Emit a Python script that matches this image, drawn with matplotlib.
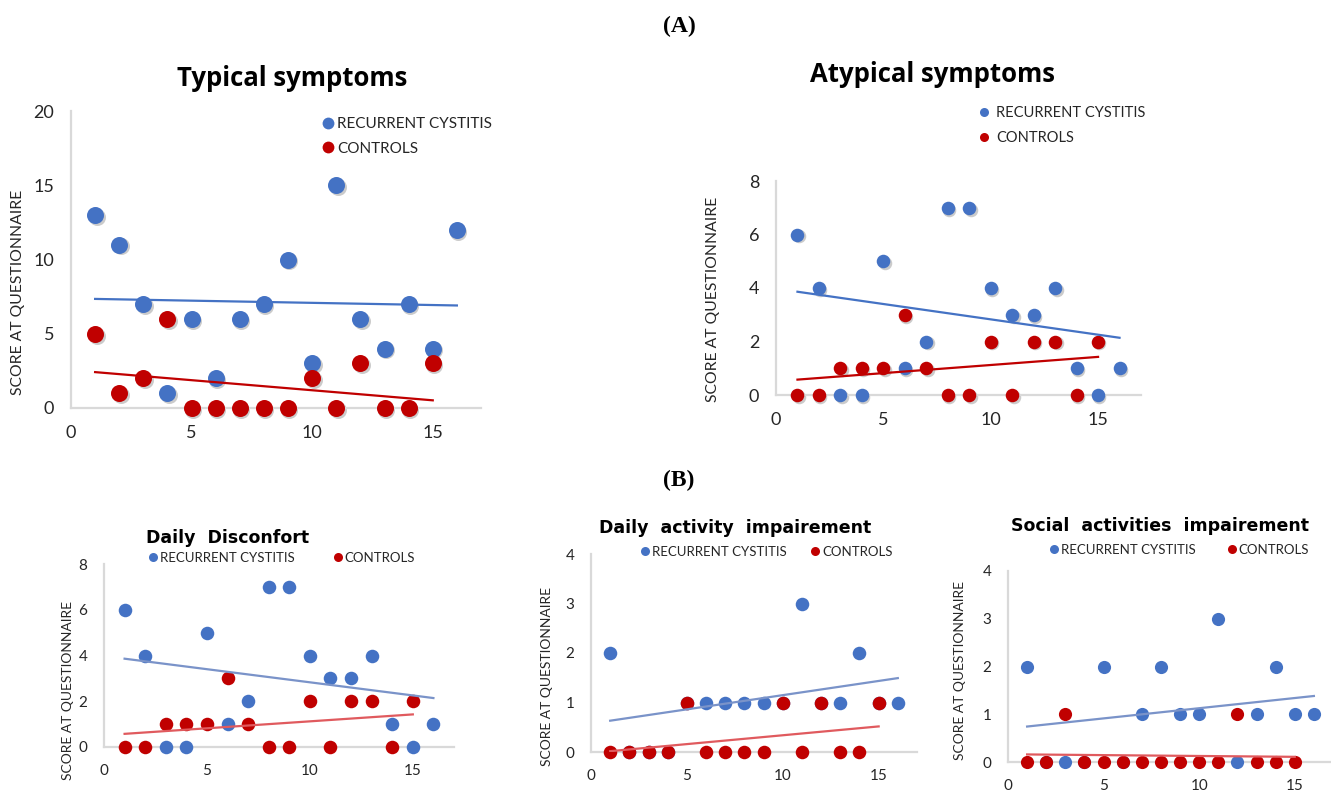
import numpy as np
import matplotlib.pyplot as plt
from matplotlib.lines import Line2D
import matplotlib.transforms as mtransforms

W, H = 1331, 792

# patient index (x) and questionnaire scores
x_rc = np.arange(1, 17)
x_ct = np.arange(1, 16)

typical_rc = [13, 11, 7, 1, 6, 2, 6, 7, 10, 3, 15, 6, 4, 7, 4, 12]
typical_ct = [5, 1, 2, 6, 0, 0, 0, 0, 0, 2, 0, 3, 0, 0, 3]

atypical_rc = [6, 4, 0, 0, 5, 1, 2, 7, 7, 4, 3, 3, 4, 1, 0, 1]
atypical_ct = [0, 0, 1, 1, 1, 3, 1, 0, 0, 2, 0, 2, 2, 0, 2]

discomfort_rc = [6, 4, 0, 0, 5, 1, 2, 7, 7, 4, 3, 3, 4, 1, 0, 1]
discomfort_ct = [0, 0, 1, 1, 1, 3, 1, 0, 0, 2, 0, 2, 2, 0, 2]

activity_rc = [2, 0, 0, 0, 1, 1, 1, 1, 1, 1, 3, 1, 1, 2, 1, 1]
activity_ct = [0, 0, 0, 0, 1, 0, 0, 0, 0, 1, 0, 1, 0, 0, 1]

social_rc = [2, 0, 0, 0, 2, 0, 1, 2, 1, 1, 3, 0, 1, 2, 1, 1]
social_ct = [0, 0, 1, 0, 0, 0, 0, 0, 0, 0, 0, 1, 0, 0, 0]

BLUE = '#4472C4'
RED = '#C00000'
AXIS = '#D9D9D9'
TXT = '#262626'

fig = plt.figure(figsize=(W / 100, H / 100), dpi=100)


def rect(x0, ytop, x1, ybot):
    return [x0 / W, 1 - ybot / H, (x1 - x0) / W, (ybot - ytop) / H]


def panel(box, rc, ct, ymax, yticks, size, tick_fs, line_cols, shadow=False):
    ax = fig.add_axes(rect(*box))
    ax.set_xlim(0, 17)
    ax.set_ylim(0, ymax)
    ax.set_xticks([0, 5, 10, 15])
    ax.set_yticks(yticks)
    for s in ['top', 'right']:
        ax.spines[s].set_visible(False)
    for s in ['left', 'bottom']:
        ax.spines[s].set_color(AXIS)
        ax.spines[s].set_linewidth(1.6)
    ax.tick_params(length=0, labelsize=tick_fs, labelcolor=TXT, pad=12)
    for lab in ax.get_xticklabels() + ax.get_yticklabels():
        lab.set_family('Lato')
    if shadow:
        off = mtransforms.offset_copy(ax.transData, fig=fig, x=1.0, y=-1.3, units='points')
        ax.scatter(x_rc, rc, s=size, color='#555555', alpha=0.3, lw=0, transform=off, zorder=2, clip_on=False)
        ax.scatter(x_ct, ct, s=size, color='#555555', alpha=0.3, lw=0, transform=off, zorder=2, clip_on=False)
    ax.scatter(x_rc, rc, s=size, color=BLUE, lw=0, zorder=3, clip_on=False)
    ax.scatter(x_ct, ct, s=size, color=RED, lw=0, zorder=4, clip_on=False)
    # linear trend lines
    for xs, ys, c in [(x_rc, rc, line_cols[0]), (x_ct, ct, line_cols[1])]:
        k, b = np.polyfit(xs, ys, 1)
        ax.plot([xs[0], xs[-1]], [k * xs[0] + b, k * xs[-1] + b], color=c, lw=1.6, zorder=5)
    return ax


def legend_items(ms):
    return [Line2D([], [], ls='none', marker='o', ms=ms, mfc=BLUE, mec='none'),
            Line2D([], [], ls='none', marker='o', ms=ms, mfc=RED, mec='none')]


labels = ['RECURRENT CYSTITIS', 'CONTROLS']

# (A) typical / atypical symptoms
panel((71, 111, 481, 408), typical_rc, typical_ct, 20, [0, 5, 10, 15, 20], 150, 13,
      (BLUE, RED), shadow=True)
panel((776, 181, 1141, 395), atypical_rc, atypical_ct, 8, [0, 2, 4, 6, 8], 95, 13,
      (BLUE, RED), shadow=True)

# (B) quality of life items
low = ('#7A93C9', '#E05A5E')
panel((104, 564, 454, 747), discomfort_rc, discomfort_ct, 8, [0, 2, 4, 6, 8], 95, 11, low)
panel((591, 554, 917, 752), activity_rc, activity_ct, 4, [0, 1, 2, 3, 4], 95, 11, low)
panel((1008, 571, 1333, 762), social_rc, social_ct, 4, [0, 1, 2, 3, 4], 90, 11, low)

# section letters
fig.text(679 / W, 1 - 26 / H, '(A)', ha='center', va='center', fontsize=17,
         family='Liberation Serif', weight='bold')
fig.text(679 / W, 1 - 480 / H, '(B)', ha='center', va='center', fontsize=17,
         family='Liberation Serif', weight='bold')

# panel titles
for x, y, t, fs, fam in [(292, 78, 'Typical symptoms', 18.5, 'Open Sans'),
                         (933, 75, 'Atypical symptoms', 18.5, 'Open Sans'),
                         (228, 538, 'Daily  Disconfort', 12.5, 'DejaVu Sans'),
                         (735, 528, 'Daily  activity  impairement', 12.5, 'DejaVu Sans'),
                         (1160, 526, 'Social  activities  impairement', 12.5, 'DejaVu Sans')]:
    fig.text(x / W, 1 - y / H, t, ha='center', va='center', fontsize=fs,
             family=fam, weight='bold', color='black')

# y axis labels
for x, y, fs in [(18, 292, 11.3), (713, 299, 11.3), (68, 690, 10), (547, 677, 10), (960, 670, 10)]:
    fig.text(x / W, 1 - y / H, 'SCORE AT QUESTIONNAIRE', rotation=90, ha='center', va='center',
             fontsize=fs, family='Lato', color=TXT)

# legends
fig.legend(legend_items(8.5), labels, loc='upper left', bbox_to_anchor=(323 / W, 1 - 117 / H),
           frameon=False, handlelength=0.7, handletextpad=0.2, labelspacing=0.7,
           prop={'family': 'Lato', 'size': 11}, labelcolor=TXT, borderpad=0, borderaxespad=0)
fig.legend(legend_items(6.5), labels, loc='upper left', bbox_to_anchor=(979 / W, 1 - 106 / H),
           frameon=False, handlelength=0.7, handletextpad=0.5, labelspacing=0.75,
           prop={'family': 'Lato', 'size': 10.5}, labelcolor=TXT, borderpad=0, borderaxespad=0)

for x, y, cs in [(149, 558, 3.0), (641, 552, 1.9), (1050, 550, 2.5)]:
    fig.legend(legend_items(6.5), labels, loc='center left', bbox_to_anchor=(x / W, 1 - y / H),
               frameon=False, ncol=2, handlelength=0.6, handletextpad=0.2, columnspacing=cs,
               prop={'family': 'Lato', 'size': 9.5}, labelcolor=TXT, borderpad=0, borderaxespad=0)

fig.savefig('out.png', dpi=100, facecolor='white')
